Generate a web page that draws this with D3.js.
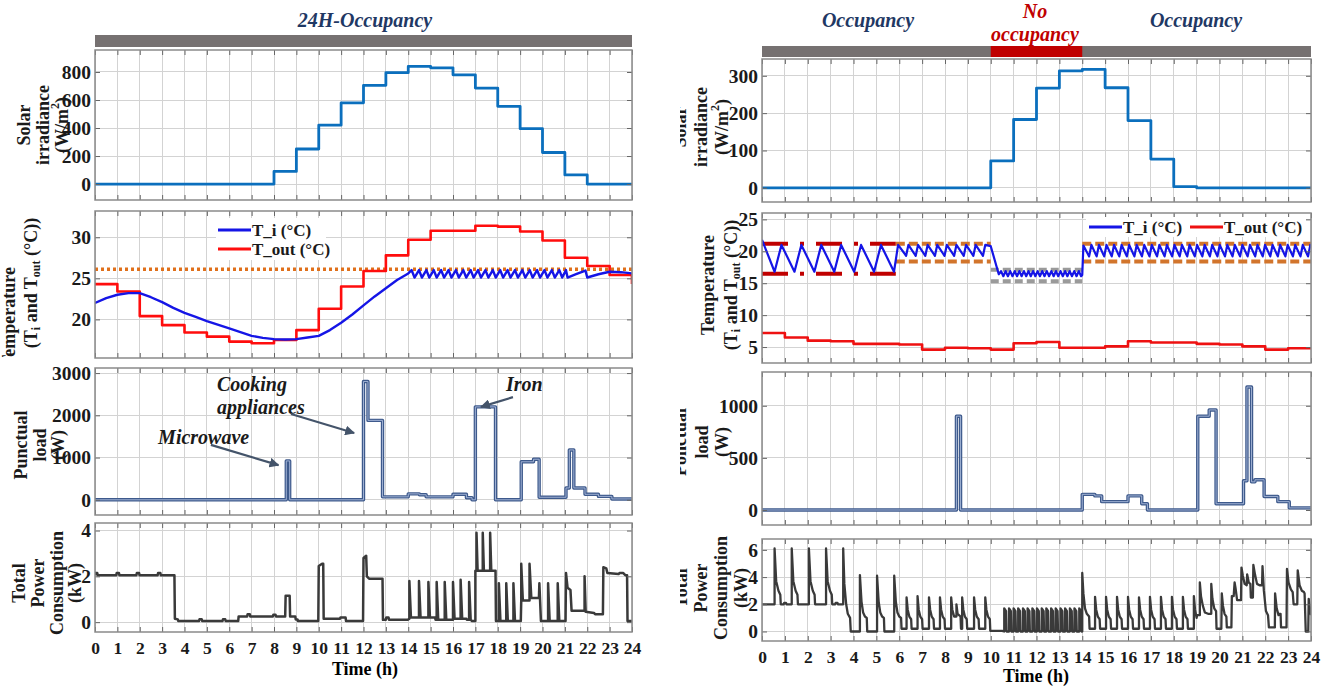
<!DOCTYPE html>
<html>
<head>
<meta charset="utf-8">
<script src="https://cdn.jsdelivr.net/npm/d3@7"></script>
<style>
body { margin: 0; background: #fff; }
svg text { font-family: "Liberation Serif", "Times New Roman", serif; font-weight: bold; }
</style>
</head>
<body>
<svg id="chart" width="1331" height="689"></svg>
<script>
// ---- data ----
var hourTicks = [0,1,2,3,4,5,6,7,8,9,10,11,12,13,14,15,16,17,18,19,20,21,22,23,24];

// hourly step values (value from hour i to i+1, last entry = value at 24h)
var solarLeft  = [0,0,0,0,0,0,0,0,90,250,420,580,705,795,840,830,780,685,555,395,225,65,0,0,0];
var solarRight = [0,0,0,0,0,0,0,0,0,0,72,183,267,313,317,268,180,77,3,0,0,0,0,0,0];
var toutLeft   = [24.3,23.4,20.4,19.3,18.4,17.9,17.3,17.1,17.5,18.7,21.3,24.0,25.9,27.8,29.7,30.8,30.8,31.4,31.3,30.7,29.6,27.5,26.5,25.4,24.3];
var toutRight  = [7.2,6.5,6.0,5.9,5.5,5.5,5.4,4.6,4.9,4.8,4.6,5.6,5.8,4.9,4.9,5.1,5.9,5.7,5.7,5.5,5.4,5.1,4.6,4.8,4.8];

var comfortLeft = 26.1;

var tiLeft = [[0,22.0],[0.5,22.6],[1.0,23.0],[1.5,23.2],[2.0,23.2],[2.5,22.7],[3.0,22.1],[3.5,21.4],[4.0,20.8],[4.5,20.3],[5.0,19.8],[6.0,18.9],[7.0,18.0],[7.5,17.75],[8.0,17.6],[8.5,17.55],[9.0,17.6],[9.5,17.8],[10.0,18.0],[10.5,18.7],[11.0,19.6],[11.5,20.6],[12.0,21.7],[12.5,22.8],[13.0,23.8],[13.5,24.8],[14.0,25.6],
  [14.15,26.0],[14.28,25.1],[14.48,26.0],[14.61,25.1],[14.81,26.0],[14.94,25.1],[15.14,26.0],[15.27,25.1],[15.47,26.0],[15.6,25.1],[15.8,26.0],[15.93,25.1],[16.13,26.0],[16.26,25.1],[16.46,26.0],[16.59,25.1],[16.79,26.0],[16.92,25.1],[17.12,26.0],[17.25,25.1],[17.45,26.0],[17.58,25.1],[17.78,26.0],[17.91,25.1],[18.11,26.0],[18.24,25.1],[18.44,26.0],[18.57,25.1],[18.77,26.0],[18.9,25.1],[19.1,26.0],[19.23,25.1],[19.43,26.0],[19.56,25.1],[19.76,26.0],[19.89,25.1],[20.09,26.0],[20.22,25.1],[20.42,26.0],[20.55,25.1],[20.75,26.0],[20.88,25.1],[21.05,26.0],[21.12,25.1],[21.5,25.5],[21.92,25.95],[22.0,25.1],[22.5,25.5],[23.0,25.8],[23.5,25.75],[24.0,25.6]];

var tiRight = [[0,21.8],[0.55,16.8],[0.85,21.0],[1.42,16.8],[1.72,21.0],[2.29,16.8],[2.59,21.0],[3.16,16.8],[3.46,21.0],[4.03,16.8],[4.33,21.0],[4.9,16.8],[5.2,21.0],[5.77,16.8],[5.95,21.0],
  [6.3,19.3],[6.4,21.0],[6.72,19.3],[6.82,21.0],[7.14,19.3],[7.24,21.0],[7.56,19.3],[7.66,21.0],[7.98,19.3],[8.08,21.0],[8.4,19.3],[8.5,21.0],[8.82,19.3],[8.92,21.0],[9.24,19.3],[9.34,21.0],[9.66,19.3],[9.76,21.0],[10.0,20.8],
  [10.35,16.4],[10.45,16.9],[10.55,16.1],[10.65,16.9],[10.75,16.1],[10.85,16.9],[10.95,16.1],[11.05,16.9],[11.15,16.1],[11.25,16.9],[11.35,16.1],[11.45,16.9],[11.55,16.1],[11.65,16.9],[11.75,16.1],[11.85,16.9],[11.95,16.1],[12.05,16.9],[12.15,16.1],[12.25,16.9],[12.35,16.1],[12.45,16.9],[12.55,16.1],[12.65,16.9],[12.75,16.1],[12.85,16.9],[12.95,16.1],[13.05,16.9],[13.15,16.1],[13.25,16.9],[13.35,16.1],[13.45,16.9],[13.55,16.1],[13.65,16.9],[13.75,16.1],[13.85,16.9],[13.95,16.1],[14.0,16.3],[14.05,20.9],
  [14.3,19.2],[14.4,21.0],[14.63,19.2],[14.73,21.0],[14.96,19.2],[15.06,21.0],[15.29,19.2],[15.39,21.0],[15.62,19.2],[15.72,21.0],[15.95,19.2],[16.05,21.0],[16.28,19.2],[16.38,21.0],[16.61,19.2],[16.71,21.0],[16.94,19.2],[17.04,21.0],[17.27,19.2],[17.37,21.0],[17.6,19.2],[17.7,21.0],[17.93,19.2],[18.03,21.0],[18.26,19.2],[18.36,21.0],[18.59,19.2],[18.69,21.0],[18.92,19.2],[19.02,21.0],[19.25,19.2],[19.35,21.0],[19.58,19.2],[19.68,21.0],[19.91,19.2],[20.01,21.0],[20.24,19.2],[20.34,21.0],[20.57,19.2],[20.67,21.0],[20.9,19.2],[21.0,21.0],[21.23,19.2],[21.33,21.0],[21.56,19.2],[21.66,21.0],[21.89,19.2],[21.99,21.0],[22.22,19.2],[22.32,21.0],[22.55,19.2],[22.65,21.0],[22.88,19.2],[22.98,21.0],[23.21,19.2],[23.31,21.0],[23.54,19.2],[23.64,21.0],[23.87,19.2],[23.97,21.0],[24.0,20.8]];

// set-point bands of the right temperature panel
var bandStart = [0, 5.85, 10, 14];
var bandEnd   = [5.85, 10, 14, 24];
var bandHigh  = [21.2, 21.2, 17.1, 21.2];
var bandLow   = [16.5, 18.4, 15.3, 18.4];
var bandKind  = ["setback", "comfort", "absent", "comfort"];

// punctual loads [start hour, W]
var loadLeft = [[0,0],[8.55,920],[8.7,0],[12.0,2800],[12.2,1880],[12.85,70],[14.0,140],[14.5,120],[14.8,70],[16.0,130],[16.6,50],[16.85,0],[17.0,2200],[17.9,0],[19.05,900],[19.6,960],[19.85,60],[21.05,280],[21.2,1180],[21.4,280],[21.9,130],[22.5,80],[23.1,20],[24,20]];
var loadRight = [[0,0],[8.5,900],[8.68,0],[14.0,150],[14.55,135],[14.85,80],[16.0,135],[16.6,60],[16.85,0],[19.05,900],[19.55,960],[19.85,60],[21.05,280],[21.2,1180],[21.4,270],[21.55,290],[21.95,130],[22.55,80],[23.05,20],[24,20]];

// total power [hour, kW]
var powerLeft = [[0,2.05],[0.02,2.15],[0.1,2.15],[0.12,2.05],[0.95,2.05],[0.97,2.15],[1.07,2.15],[1.09,2.05],[1.85,2.05],[1.87,2.15],[1.97,2.15],[1.99,2.05],[2.8,2.05],[2.82,2.15],[2.92,2.15],[2.94,2.05],[3.55,2.05],[3.57,0.15],[3.7,0.12],[3.72,0.05],[4.65,0.05],[4.67,0.13],[4.77,0.13],[4.79,0.05],[5.7,0.05],[5.72,0.13],[5.82,0.13],[5.84,0.05],[6.4,0.05],[6.42,0.25],[6.8,0.25],[6.82,0.35],[6.92,0.35],[6.94,0.25],[7.95,0.25],[7.97,0.32],[8.07,0.32],[8.09,0.25],[8.5,0.25],[8.52,1.15],[8.7,1.15],[8.72,0.25],[8.95,0.25],[8.97,0.12],[9.05,0.12],[9.07,0.05],[9.98,0.05],[10.0,2.45],[10.15,2.55],[10.2,2.55],[10.22,0.15],[10.95,0.15],[10.97,0.2],[11.2,0.2],[11.22,0.05],[11.98,0.05],[12.0,2.8],[12.12,2.9],[12.15,2.0],[12.25,1.9],[12.85,1.9],[12.87,0.1],[13.0,0.1],[13.02,0.2],[13.12,0.2],[13.14,0.1],[13.98,0.1],
  [14.05,0.15],[14.05,1.8],[14.12,0.2],[14.48,0.2],[14.48,1.8],[14.55,0.2],[14.9,0.2],[14.9,1.75],[14.97,0.2],[15.2,0.2],[15.22,0.1],[15.27,0.1],[15.27,1.75],[15.34,0.1],[15.63,0.1],[15.63,1.75],[15.7,0.1],[16.0,0.1],[16.0,1.75],[16.07,0.15],[16.34,0.15],[16.34,1.85],[16.41,0.15],[16.6,0.15],[16.62,0.1],[16.72,0.1],[16.72,1.75],[16.79,0.1],[16.85,0.05],[17.0,0.05],
  [17.0,2.25],[17.05,2.25],[17.05,3.9],[17.1,2.25],[17.33,2.25],[17.33,3.9],[17.38,2.25],[17.66,2.25],[17.66,3.9],[17.71,2.25],[17.9,2.25],[17.92,0.05],
  [18.05,0.05],[18.05,1.7],[18.12,0.05],[18.38,0.05],[18.38,1.7],[18.45,0.05],[18.7,0.05],[18.7,1.7],[18.77,0.05],[19.03,0.05],
  [19.05,0.95],[19.05,2.55],[19.12,0.95],[19.42,0.95],[19.42,2.55],[19.5,1.05],[19.84,1.05],[19.86,1.7],[19.93,0.05],[20.25,0.05],[20.25,1.7],[20.32,0.05],[20.68,0.05],[20.68,1.7],[20.75,0.05],[21.03,0.05],
  [21.05,2.15],[21.12,1.5],[21.25,1.4],[21.3,0.5],[21.88,0.5],[21.88,2.0],[21.93,0.45],[22.3,0.4],[22.35,0.35],[22.7,0.35],[22.72,2.4],[22.85,2.35],[22.9,2.15],[23.4,2.1],[23.45,2.15],[23.6,2.15],[23.7,2.05],[23.78,2.05],[23.8,0.05],[24,0.05]];

var powerRight = [[0,2.0],[0.55,2.0],[0.55,6.1],[0.62,3.7],[0.72,3.0],[0.8,2.7],[0.82,2.0],[0.95,2.0],[0.97,2.1],[1.05,2.1],[1.07,2.0],[1.3,2.0],[1.3,6.1],[1.37,3.7],[1.47,3.0],[1.55,2.7],[1.57,2.0],[2.05,2.0],[2.05,6.1],[2.12,3.7],[2.22,3.0],[2.3,2.7],[2.32,2.0],[2.8,2.0],[2.8,6.1],[2.87,3.7],[2.97,3.0],[3.05,2.7],[3.07,2.0],[3.2,2.0],[3.22,2.1],[3.3,2.1],[3.32,2.0],[3.55,2.0],[3.55,6.1],[3.6,3.5],[3.68,2.0],[3.75,1.3],[3.85,1.0],[3.88,0.0],
  [4.28,0.0],[4.28,4.15],[4.35,2.2],[4.42,1.4],[4.5,1.1],[4.58,1.0],[4.6,0.0],[5.03,0.0],[5.03,4.1],[5.1,2.2],[5.17,1.4],[5.25,1.1],[5.33,1.0],[5.35,0.0],[5.78,0.0],[5.78,4.1],[5.85,2.2],[5.92,1.4],[6.0,1.1],[6.08,1.0],[6.1,0.2],
  [6.32,0.2],[6.32,2.5],[6.37,1.6],[6.44,1.1],[6.52,0.9],[6.54,0.2],[6.8,0.2],[6.8,2.6],[6.85,1.6],[6.92,1.1],[7.0,0.9],[7.02,0.2],[7.3,0.2],[7.3,2.5],[7.35,1.6],[7.42,1.1],[7.5,0.9],[7.52,0.2],[7.78,0.2],[7.78,2.5],[7.83,1.6],[7.9,1.1],[7.98,0.9],[8.0,0.2],[8.27,0.2],[8.27,2.5],[8.32,1.6],[8.4,1.1],[8.5,1.1],[8.5,2.0],[8.55,1.3],[8.68,1.1],[8.7,0.2],[8.75,0.2],[8.75,2.5],[8.8,1.6],[8.87,1.1],[8.95,0.9],[8.97,0.2],[9.27,0.2],[9.27,2.5],[9.32,1.6],[9.39,1.1],[9.47,0.9],[9.49,0.2],[9.76,0.2],[9.76,2.5],[9.81,1.6],[9.88,1.1],[9.96,0.9],[9.98,0.05],[10.5,0.05],
  [10.59,0.0],[10.59,1.7],[10.67,1.5],[10.69,0.0],[10.8,0.0],[10.8,1.7],[10.88,1.5],[10.9,0.0],[11.0,0.0],[11.0,1.7],[11.08,1.5],[11.1,0.0],[11.2,0.0],[11.2,1.7],[11.28,1.5],[11.3,0.0],[11.41,0.0],[11.41,1.7],[11.49,1.5],[11.51,0.0],[11.61,0.0],[11.61,1.7],[11.69,1.5],[11.71,0.0],[11.82,0.0],[11.82,1.7],[11.9,1.5],[11.92,0.0],[12.02,0.0],[12.02,1.7],[12.1,1.5],[12.12,0.0],[12.23,0.0],[12.23,1.7],[12.31,1.5],[12.33,0.0],[12.43,0.0],[12.43,1.7],[12.51,1.5],[12.53,0.0],[12.64,0.0],[12.64,1.7],[12.72,1.5],[12.74,0.0],[12.84,0.0],[12.84,1.7],[12.92,1.5],[12.94,0.0],[13.05,0.0],[13.05,1.7],[13.13,1.5],[13.15,0.0],[13.25,0.0],[13.25,1.7],[13.33,1.5],[13.35,0.0],[13.46,0.0],[13.46,1.7],[13.54,1.5],[13.56,0.0],[13.66,0.0],[13.66,1.7],[13.74,1.5],[13.76,0.0],[13.87,0.0],[13.87,1.7],[13.95,1.5],[13.97,0.0],
  [14.0,0.0],[14.0,4.3],[14.05,2.8],[14.12,1.7],[14.2,1.3],[14.3,1.1],[14.32,0.2],
  [14.56,0.2],[14.56,2.55],[14.61,1.6],[14.68,1.1],[14.76,0.9],[14.78,0.2],[15.04,0.2],[15.04,2.55],[15.09,1.6],[15.16,1.1],[15.24,0.9],[15.26,0.2],[15.52,0.2],[15.52,2.55],[15.57,1.6],[15.64,1.1],[15.72,0.9],[15.74,0.2],[16.0,0.2],[16.0,2.55],[16.05,1.6],[16.12,1.1],[16.2,0.9],[16.22,0.2],[16.48,0.2],[16.48,2.5],[16.53,1.6],[16.6,1.1],[16.68,0.9],[16.7,0.2],[16.96,0.2],[16.96,2.55],[17.01,1.6],[17.08,1.1],[17.16,0.9],[17.18,0.2],[17.44,0.2],[17.44,2.55],[17.49,1.6],[17.56,1.1],[17.64,0.9],[17.66,0.2],[17.92,0.2],[17.92,2.55],[17.97,1.6],[18.04,1.1],[18.12,0.9],[18.14,0.2],[18.4,0.2],[18.4,2.55],[18.45,1.6],[18.52,1.1],[18.6,0.9],[18.62,0.2],[18.88,0.2],[18.88,2.6],[18.93,1.6],[19.0,1.0],
  [19.02,1.2],[19.14,1.2],[19.14,3.6],[19.19,2.6],[19.27,1.9],[19.36,1.4],[19.5,1.3],[19.64,1.3],[19.64,3.5],[19.69,2.4],[19.77,1.7],[19.85,1.5],[19.87,0.2],[20.08,0.2],[20.1,2.8],[20.15,1.9],[20.22,1.3],[20.3,1.1],[20.32,0.3],[20.52,0.3],[20.54,2.6],[20.62,2.6],[20.66,3.6],[20.7,3.2],[20.77,2.3],[20.94,2.3],[20.96,4.7],[21.02,4.1],[21.1,3.5],[21.19,3.4],[21.21,4.2],[21.28,3.6],[21.35,3.5],[21.37,2.5],[21.46,2.5],[21.48,4.9],[21.55,4.2],[21.64,3.5],[21.75,3.4],[21.86,3.4],[21.88,4.8],[21.94,3.0],[22.03,1.5],[22.12,1.2],[22.16,0.3],[22.42,0.3],[22.43,2.8],[22.5,1.7],[22.58,1.2],[22.6,1.3],[22.67,1.3],[22.69,0.3],[22.93,0.3],[22.95,4.6],[23.02,3.6],[23.12,3.1],[23.2,2.9],[23.24,2.0],[23.4,2.0],[23.42,4.5],[23.5,3.4],[23.6,3.0],[23.69,2.9],[23.72,2.8],[23.77,0.0],[23.88,0.0],[23.9,2.4],[23.96,1.6],[24.0,1.2]];

// tick labels
var solarTicksLeft = [0,200,400,600,800];
var tempTicksLeft = [20,25,30];
var loadTicksLeft = [0,1000,2000,3000];
var powerTicksLeft = [0,2,4];
var solarTicksRight = [0,100,200,300];
var tempTicksRight = [5,10,15,20,25];
var loadTicksRight = [0,500,1000];
var powerTicksRight = [0,2,4,6];

// ---- drawing ----
var svg = d3.select("#chart");
var defs = svg.append("defs");
defs.append("marker").attr("id", "arrow")
  .attr("viewBox", "0 0 10 10").attr("refX", 9).attr("refY", 5)
  .attr("markerWidth", 4.5).attr("markerHeight", 4.5)
  .attr("orient", "auto")
  .append("path").attr("d", "M0,0L10,5L0,10z").attr("fill", "#44546a");

var clipCount = 0;
function makePanel(x0, x1, y0, y1, domain, ticks, showXLabels) {
  var x = d3.scaleLinear().domain([0, 24]).range([x0, x1]);
  var y = d3.scaleLinear().domain(domain).range([y1, y0]);
  var g = svg.append("g");

  g.append("g").selectAll("line").data(hourTicks).join("line")
    .attr("x1", function(d) { return x(d); }).attr("x2", function(d) { return x(d); })
    .attr("y1", y0).attr("y2", y1)
    .attr("stroke", "#d3d3d3").attr("stroke-width", 1).attr("shape-rendering", "crispEdges");
  g.append("g").selectAll("line").data(ticks).join("line")
    .attr("x1", x0).attr("x2", x1)
    .attr("y1", function(d) { return y(d); }).attr("y2", function(d) { return y(d); })
    .attr("stroke", "#d3d3d3").attr("stroke-width", 1).attr("shape-rendering", "crispEdges");

  var id = "clip" + (clipCount++);
  defs.append("clipPath").attr("id", id).append("rect")
    .attr("x", x0).attr("y", y0).attr("width", x1 - x0).attr("height", y1 - y0);
  var plot = g.append("g").attr("clip-path", "url(#" + id + ")");

  var axes = g.append("g").attr("class", "axes");
  axes.append("g").attr("class", "yaxis").attr("transform", "translate(" + x0 + ",0)")
    .call(d3.axisLeft(y).tickValues(ticks).tickSize(-5).tickPadding(4).tickFormat(d3.format("d")));
  axes.append("g").attr("transform", "translate(" + x1 + ",0)")
    .call(d3.axisRight(y).tickValues(ticks).tickSize(-5).tickFormat(""));
  axes.append("g").attr("transform", "translate(0," + y0 + ")")
    .call(d3.axisTop(x).tickValues(hourTicks).tickSize(-5).tickFormat(""));
  axes.append("g").attr("class", "xaxis").attr("transform", "translate(0," + y1 + ")")
    .call(d3.axisBottom(x).tickValues(hourTicks).tickSize(-5).tickPadding(10)
      .tickFormat(showXLabels ? d3.format("d") : ""));
  axes.selectAll(".domain").remove();
  axes.selectAll(".tick line").attr("stroke", "#666");
  axes.selectAll("text").attr("fill", "#1a1a1a")
    .style("font-family", "'Liberation Serif', serif").style("font-weight", "bold");
  axes.selectAll(".yaxis text").attr("font-size", 19.5);
  axes.selectAll(".xaxis text").attr("font-size", 17.5);

  g.append("rect").attr("x", x0).attr("y", y0).attr("width", x1 - x0).attr("height", y1 - y0)
    .attr("fill", "none").attr("stroke", "#8a8a8a").attr("stroke-width", 1.5);
  return { x: x, y: y, g: g, plot: plot };
}

function hourly(values) {
  return values.map(function(v, i) { return [i, v]; });
}

function drawLine(p, data, color, width, curve) {
  var line = d3.line()
    .x(function(d) { return p.x(d[0]); })
    .y(function(d) { return p.y(d[1]); })
    .curve(curve || d3.curveLinear);
  return p.plot.append("path").attr("d", line(data))
    .attr("fill", "none").attr("stroke", color).attr("stroke-width", width)
    .attr("stroke-linejoin", "round");
}

function yText(x, y, html, clipId) {
  var holder = svg.append("g");
  if (clipId) holder.attr("clip-path", "url(#" + clipId + ")");
  return holder.append("text")
    .attr("transform", "translate(" + x + "," + y + ") rotate(-90)")
    .attr("text-anchor", "middle").attr("dominant-baseline", "central")
    .attr("font-size", 18).attr("fill", "#1a1a1a").html(html);
}

var L0 = 95, L1 = 632, R0 = 762, R1 = 1311;

// occupancy bars and titles
svg.append("rect").attr("x", L0).attr("y", 35).attr("width", L1 - L0).attr("height", 12).attr("fill", "#767171");
var xr = d3.scaleLinear().domain([0, 24]).range([R0, R1]);
svg.append("rect").attr("x", R0).attr("y", 46).attr("width", R1 - R0).attr("height", 11).attr("fill", "#767171");
svg.append("rect").attr("x", xr(10)).attr("y", 46).attr("width", xr(14) - xr(10)).attr("height", 11).attr("fill", "#c00000");

function title(x, y, s, color) {
  svg.append("text").attr("x", x).attr("y", y).attr("text-anchor", "middle")
    .attr("dominant-baseline", "central").attr("font-size", 20).attr("font-style", "italic")
    .attr("fill", color).text(s);
}
title(365, 20, "24H-Occupancy", "#1f3864");
title(868, 20, "Occupancy", "#1f3864");
title(1035, 11, "No", "#c00000");
title(1035, 34, "occupancy", "#c00000");
title(1196, 20, "Occupancy", "#1f3864");

// ---- left column ----
var pL1 = makePanel(L0, L1, 50, 200, [-114, 957], solarTicksLeft, false);
drawLine(pL1, hourly(solarLeft), "#0b6fbd", 2.8, d3.curveStepAfter);

var pL2 = makePanel(L0, L1, 211, 358, [15.3, 33.2], tempTicksLeft, false);
pL2.plot.append("line").attr("x1", pL2.x(0)).attr("x2", pL2.x(24))
  .attr("y1", pL2.y(comfortLeft)).attr("y2", pL2.y(comfortLeft))
  .attr("stroke", "#e0701b").attr("stroke-width", 3.5).attr("stroke-dasharray", "3,3");
drawLine(pL2, hourly(toutLeft), "#ff0d0d", 2.6, d3.curveStepAfter);
drawLine(pL2, tiLeft, "#1515e6", 2.4);

var pL3 = makePanel(L0, L1, 368, 515, [-360, 3120], loadTicksLeft, false);
drawLine(pL3, loadLeft, "#3e5a8c", 3.4, d3.curveStepAfter);
drawLine(pL3, loadLeft, "#a9badb", 0.9, d3.curveStepAfter);

var pL4 = makePanel(L0, L1, 523, 632, [-0.43, 4.33], powerTicksLeft, true);
drawLine(pL4, powerLeft, "#3a3a3a", 2.5);

// ---- right column ----
var pR1 = makePanel(R0, R1, 59, 202, [-38, 345], solarTicksRight, false);
drawLine(pR1, hourly(solarRight), "#0b6fbd", 2.8, d3.curveStepAfter);

var pR2 = makePanel(R0, R1, 213, 363, [2.5, 26], tempTicksRight, false);
var bandStyle = {
  setback: { color: "#c00000", dash: "26,12,4,12" },
  comfort: { color: "#d2752c", dash: "9,4" },
  absent: { color: "#9a9a9a", dash: "8,4" }
};
bandStart.forEach(function(s, i) {
  var st = bandStyle[bandKind[i]];
  [bandHigh[i], bandLow[i]].forEach(function(v) {
    pR2.plot.append("line").attr("x1", pR2.x(s)).attr("x2", pR2.x(bandEnd[i]))
      .attr("y1", pR2.y(v)).attr("y2", pR2.y(v))
      .attr("stroke", st.color).attr("stroke-width", 4).attr("stroke-dasharray", st.dash);
  });
});
drawLine(pR2, hourly(toutRight), "#ee1111", 2.6, d3.curveStepAfter);
drawLine(pR2, tiRight, "#1515e6", 2.2);

var pR3 = makePanel(R0, R1, 372, 525, [-144, 1324], loadTicksRight, false);
drawLine(pR3, loadRight, "#3e5a8c", 3.4, d3.curveStepAfter);
drawLine(pR3, loadRight, "#a9badb", 0.9, d3.curveStepAfter);

var pR4 = makePanel(R0, R1, 539, 641, [-0.7, 6.8], powerTicksRight, true);
drawLine(pR4, powerRight, "#3a3a3a", 2.3);

// ---- legends ----
function legendItem(x, y, color, html) {
  svg.append("line").attr("x1", x).attr("x2", x + 33).attr("y1", y).attr("y2", y)
    .attr("stroke", color).attr("stroke-width", 3);
  svg.append("text").attr("x", x + 34).attr("y", y).attr("dominant-baseline", "central")
    .attr("font-size", 17).attr("fill", "#1a1a1a").html(html);
}
svg.append("rect").attr("x", 216).attr("y", 218).attr("width", 110).attr("height", 42).attr("fill", "#fff");
legendItem(218, 230, "#1515e6", "T_i (°C)");
legendItem(218, 249, "#ff0d0d", "T_out (°C)");
svg.append("rect").attr("x", 1086).attr("y", 217).attr("width", 220).attr("height", 20).attr("fill", "#fff");
legendItem(1089, 227, "#1515e6", "T_i (°C)");
legendItem(1190, 227, "#ee1111", "T_out (°C)");

// ---- annotations on the left load panel ----
function note(p, tx, lines) {
  lines.forEach(function(l) {
    svg.append("text").attr("x", p.x(tx)).attr("y", p.y(l[1]))
      .attr("dominant-baseline", "central").attr("font-size", 20).attr("font-style", "italic")
      .attr("fill", "#1a1a1a").text(l[0]);
  });
}
function arrow(p, from, to) {
  svg.append("line").attr("x1", p.x(from[0])).attr("y1", p.y(from[1]))
    .attr("x2", p.x(to[0])).attr("y2", p.y(to[1]))
    .attr("stroke", "#44546a").attr("stroke-width", 2.2).attr("marker-end", "url(#arrow)");
}
note(pL3, 5.45, [["Cooking", 2740], ["appliances", 2200]]);
note(pL3, 2.82, [["Microwave", 1480]]);
note(pL3, 18.37, [["Iron", 2740]]);
arrow(pL3, [8.76, 2030], [11.58, 1580]);
arrow(pL3, [5.18, 1300], [8.2, 820]);
arrow(pL3, [18.68, 2430], [17.25, 2200]);

// ---- axis titles ----
svg.append("text").attr("x", 365).attr("y", 669).attr("text-anchor", "middle")
  .attr("dominant-baseline", "central").attr("font-size", 18).text("Time (h)");
svg.append("text").attr("x", 1036).attr("y", 676).attr("text-anchor", "middle")
  .attr("dominant-baseline", "central").attr("font-size", 18).text("Time (h)");

defs.append("clipPath").attr("id", "clipTempL").append("rect")
  .attr("x", 0).attr("y", 200).attr("width", 90).attr("height", 157);
defs.append("clipPath").attr("id", "clipRightLab").append("rect")
  .attr("x", 680).attr("y", 0).attr("width", 80).attr("height", 689);

var sup2 = "(W/m<tspan dy='-7' font-size='12'>2</tspan><tspan dy='7'>)</tspan>";
var tempSub = "(T<tspan dy='5' font-size='12'>i</tspan><tspan dy='-5'> and T</tspan><tspan dy='5' font-size='12'>out</tspan><tspan dy='-5'> (°C))</tspan>";

yText(24, 125, "Solar"); yText(43, 125, "irradiance"); yText(62, 125, sup2);
yText(9, 317, "Temperature", "clipTempL"); yText(31, 283, tempSub);
yText(21, 445, "Punctual"); yText(40, 445, "load"); yText(58, 445, "(W)");
yText(19, 583, "Total"); yText(38, 583, "Power"); yText(57, 583, "Consumption"); yText(75, 583, "(kW)");

yText(680, 127, "Solar", "clipRightLab"); yText(701, 127, "irradiance"); yText(722, 127, sup2);
yText(708, 285, "Temperature"); yText(731, 285, tempSub);
yText(680, 442, "Ponctual", "clipRightLab"); yText(702, 442, "load"); yText(722, 442, "(W)");
yText(681, 588, "Total", "clipRightLab"); yText(701, 588, "Power"); yText(721, 588, "Consumption"); yText(741, 588, "(kW)");
</script>
</body>
</html>
